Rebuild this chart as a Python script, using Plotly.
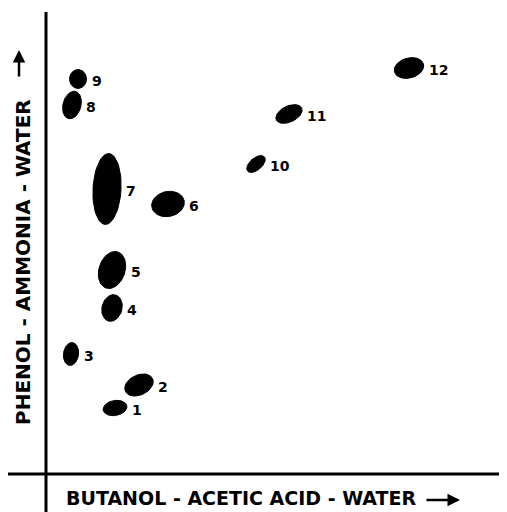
import numpy as np
import plotly.graph_objects as go

# Spot data (distance travelled in each solvent, arbitrary units)
spot_ids = ["1", "2", "3", "4", "5", "6", "7", "8", "9", "10", "11", "12"]
butanol_x = [69, 93, 25, 66, 66, 122, 61, 26, 32, 210, 243, 363]
phenol_y = [66, 89, 120, 166, 204, 270, 285, 369, 395, 310, 360, 406]
spot_len = [24, 30, 15, 20, 26, 33, 28, 18, 17, 22, 28, 30]   # extent along main axis
spot_wid = [15, 20, 23, 27, 38, 25, 71, 28, 19, 12, 16, 20]   # extent along minor axis
spot_tilt = [10, 25, -8, -15, -18, 12, -3, -15, 0, 40, 25, 15]  # degrees

x_title = "BUTANOL - ACETIC ACID - WATER"
y_title = "PHENOL - AMMONIA - WATER"

fig = go.Figure()

t = np.linspace(0, 2 * np.pi, 60)
for sid, cx, cy, L, W, ang in zip(spot_ids, butanol_x, phenol_y, spot_len, spot_wid, spot_tilt):
    a, b = L / 2, W / 2
    th = np.deg2rad(ang)
    ex = a * np.cos(t)
    ey = b * np.sin(t)
    xs = cx + ex * np.cos(th) - ey * np.sin(th)
    ys = cy + ex * np.sin(th) + ey * np.cos(th)
    fig.add_trace(go.Scatter(x=xs, y=ys, mode="lines", fill="toself",
                             fillcolor="black", line=dict(color="black", width=1),
                             hoverinfo="skip", showlegend=False))
    right = float(np.max(xs))
    fig.add_annotation(x=right, y=cy, text="<b>%s</b>" % sid, showarrow=False,
                       xanchor="left", yanchor="middle", xshift=3, yshift=-2,
                       font=dict(family="DejaVu Sans", size=14, color="black"))

# axes lines
fig.add_shape(type="line", x0=0, x1=0, y0=-40, y1=462, line=dict(color="black", width=3))
fig.add_shape(type="line", x0=-38, x1=462, y0=0, y1=0, line=dict(color="black", width=3))

# axis titles
fig.add_annotation(x=195, y=-24, xref="x", yref="y",
                   text="<b>%s</b>" % x_title, showarrow=False,
                   xanchor="center", yanchor="middle",
                   font=dict(family="DejaVu Sans", size=19, color="black"))
fig.add_annotation(x=-23, y=212, xref="x", yref="y", textangle=-90,
                   text="<b>%s</b>" % y_title, showarrow=False,
                   xanchor="center", yanchor="middle",
                   font=dict(family="DejaVu Sans", size=20, color="black"))

# direction arrows
fig.add_annotation(x=414, y=-26, ax=379, ay=-26, xref="x", yref="y", axref="x", ayref="y",
                   text="", showarrow=True, arrowhead=2, arrowsize=1, arrowwidth=2.5,
                   arrowcolor="black")
fig.add_annotation(x=-27, y=424, ax=-27, ay=396, xref="x", yref="y", axref="x", ayref="y",
                   text="", showarrow=True, arrowhead=2, arrowsize=1, arrowwidth=2.5,
                   arrowcolor="black")

fig.update_layout(width=499, height=504, margin=dict(l=0, r=0, t=0, b=0),
                  paper_bgcolor="white", plot_bgcolor="white",
                  xaxis=dict(range=[-38, 461], visible=False, fixedrange=True),
                  yaxis=dict(range=[-38, 466], visible=False, fixedrange=True))

fig.write_html("out.html")
